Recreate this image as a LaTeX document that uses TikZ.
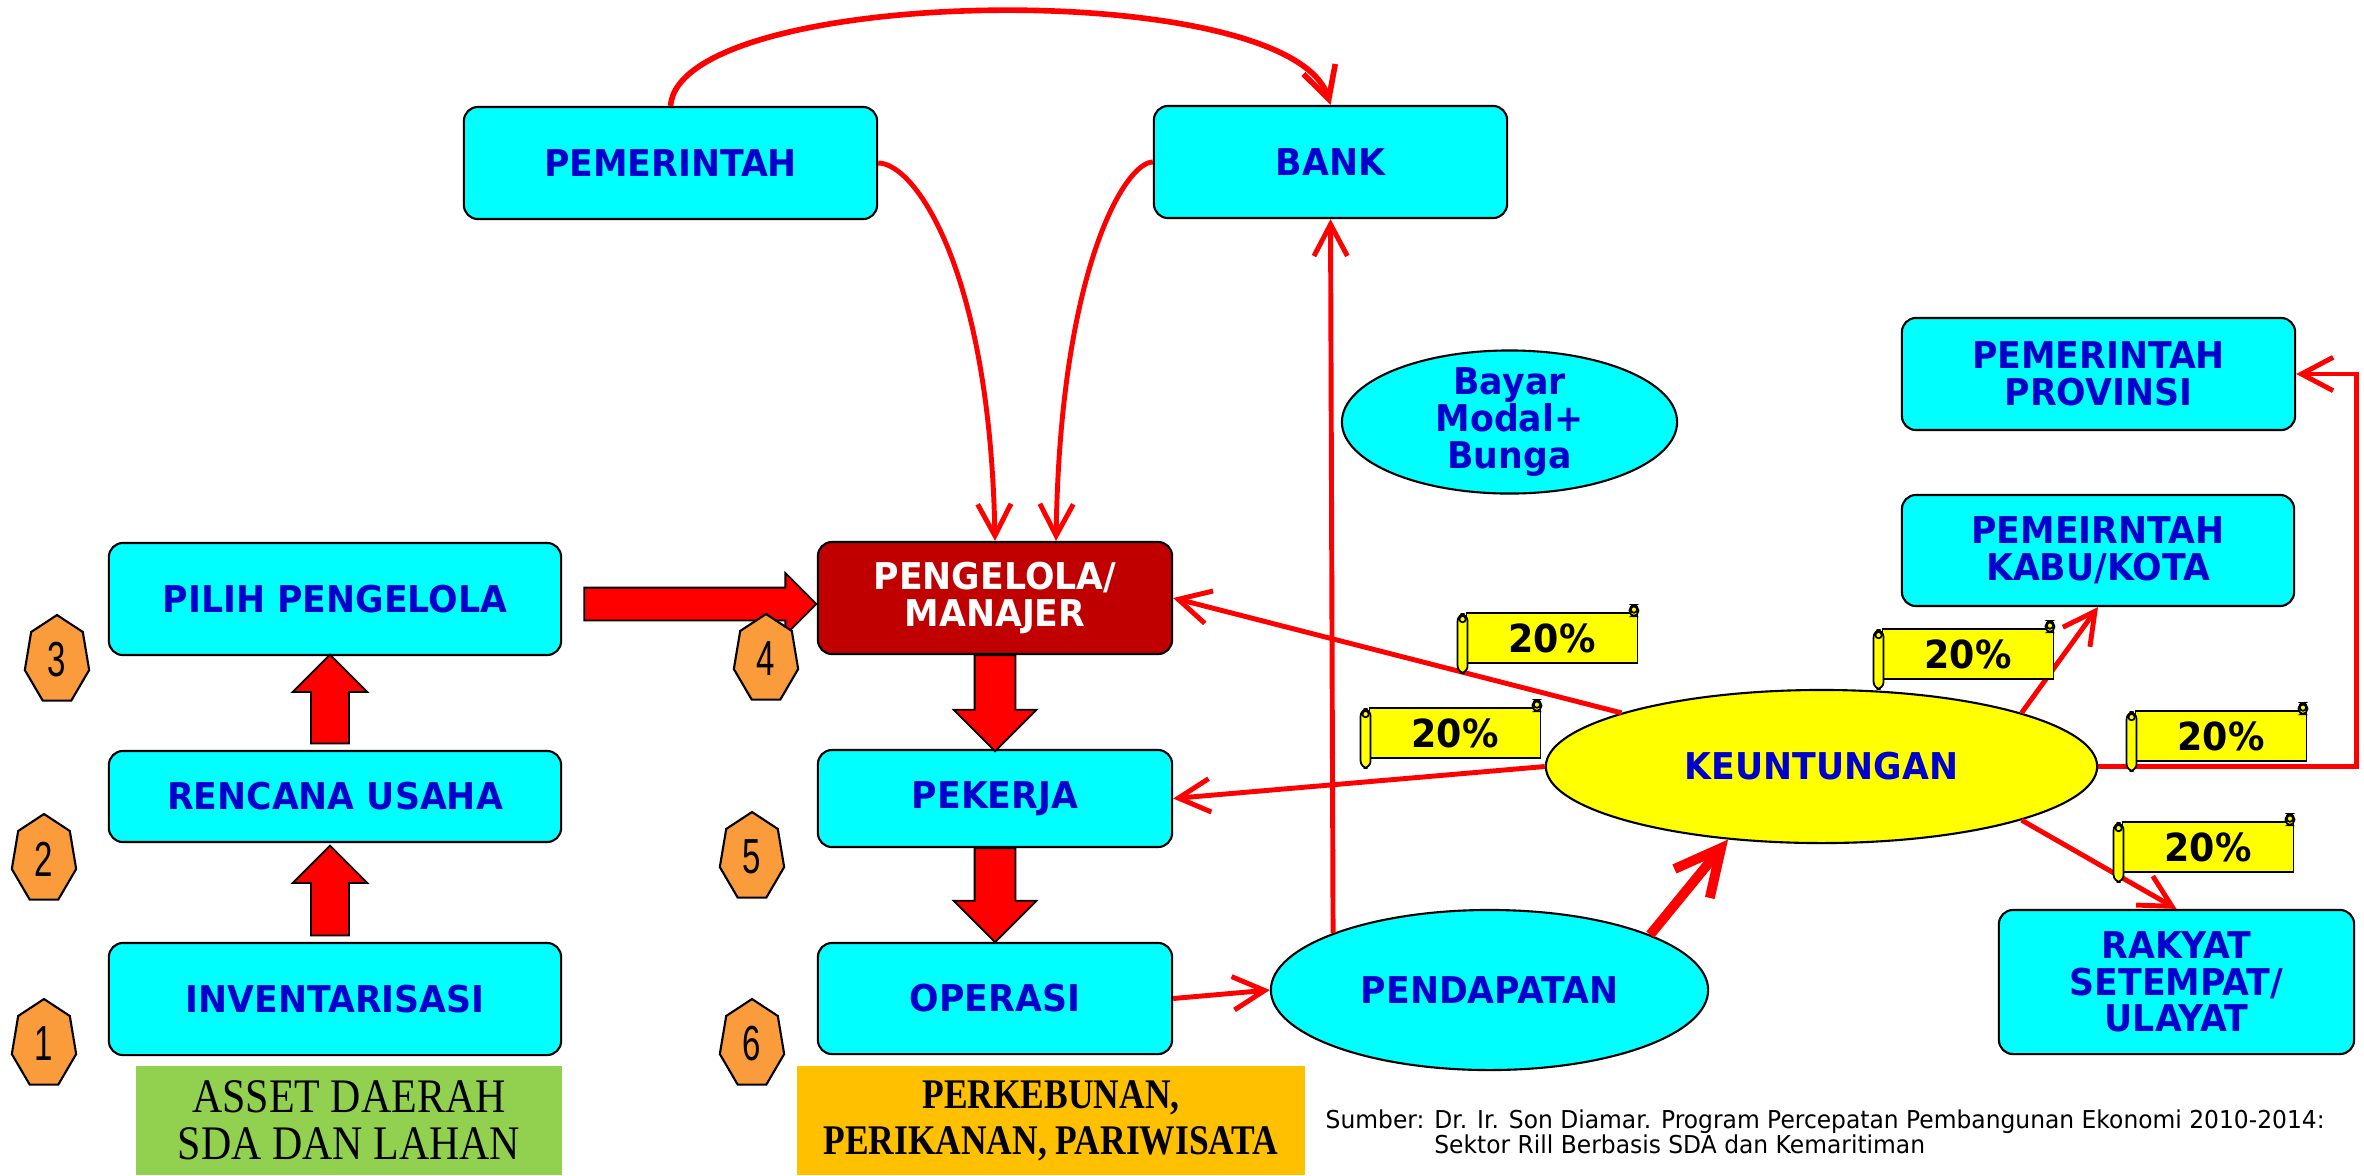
\documentclass[tikz,border=0pt]{standalone}
\usepackage{fontspec}
\newfontfamily\boxfont[FakeStretch=0.94]{DejaVu Sans}
\newfontfamily\numfont[FakeStretch=0.67]{Liberation Sans}
\newfontfamily\assetfont[FakeStretch=0.87]{Liberation Serif}
\newfontfamily\sectorfont[FakeStretch=0.84]{Liberation Serif}
\newfontfamily\srcfont[FakeStretch=0.95]{DejaVu Sans}
\usetikzlibrary{shapes.geometric,shapes.arrows,arrows.meta,calc}
\definecolor{boxcyan}{RGB}{0,255,255}
\definecolor{txtblue}{RGB}{0,0,204}
\definecolor{mgrred}{RGB}{192,0,0}
\definecolor{linered}{RGB}{255,0,0}
\definecolor{heptorange}{RGB}{250,155,60}
\definecolor{assetgreen}{RGB}{146,208,80}
\definecolor{sectorgold}{RGB}{255,192,0}
\definecolor{scrollyellow}{RGB}{255,255,0}
\newcommand\pct[3]{%
  \node[pctbody] (#1) at (#2,#3) {20\%};
  \filldraw[scrollln,rounded corners=1.5pt] ($(#1.north east)+(-9,-7)$) rectangle ($(#1.north east)+(0,4)$);
  \draw[scrollln] ($(#1.north east)+(-4.5,-2.5)$) circle[radius=0.9pt];
  \filldraw[scrollln,rounded corners=2pt] ($(#1.north west)+(-8,2)$) rectangle ($(#1.south west)+(2,9)$);
  \draw[scrollln] ($(#1.north west)+(-3,7)$) circle[radius=0.9pt];
}
\begin{document}
\begin{tikzpicture}[x=0.01cm,y=-0.01cm,
  box/.style={draw=black,line width=0.6pt,fill=boxcyan,rounded corners=4pt,text=txtblue,
    font=\boxfont\bfseries\fontsize{10.5}{10.4}\selectfont,align=center,inner sep=0pt},
  oval/.style={ellipse,draw=black,line width=0.6pt,fill=boxcyan,text=txtblue,
    font=\boxfont\bfseries\fontsize{10.5}{10.4}\selectfont,align=center,inner sep=0pt},
  conn/.style={draw=linered,line width=1.4pt,-{Straight Barb[length=9pt,width=9.5pt]}},
  barrow/.style={single arrow,draw=black,fill=linered,line width=0.5pt,inner sep=0pt,single arrow tip angle=90},
  pctbody/.style={draw=black,line width=0.5pt,fill=scrollyellow,minimum width=1.71cm,minimum height=0.50cm,
    inner sep=0pt,font=\boxfont\bfseries\fontsize{11}{11}\selectfont},
  scrollln/.style={draw=black,line width=0.5pt,fill=scrollyellow},
  hept/.style={draw=black,line width=0.6pt,fill=heptorange},
  num/.style={font=\numfont\fontsize{14}{14}\selectfont,inner sep=0pt}]
  \useasboundingbox (0,0) rectangle (2364,1175);
  \node[box,minimum width=4.13cm,minimum height=1.12cm] (pem) at (670.5,163) {PEMERINTAH};
  \node[box,minimum width=3.53cm,minimum height=1.12cm] (bank) at (1330.5,162) {BANK};
  \node[box,minimum width=4.52cm,minimum height=1.12cm] (pilih) at (335,599) {PILIH PENGELOLA};
  \node[box,minimum width=4.52cm,minimum height=0.91cm] (rencana) at (335,796.5) {RENCANA USAHA};
  \node[box,minimum width=4.52cm,minimum height=1.12cm] (inv) at (335,999) {INVENTARISASI};
  \node[box,fill=mgrred,text=white,minimum width=3.54cm,minimum height=1.12cm] (mgr) at (995,598) {PENGELOLA/\\MANAJER};
  \node[box,minimum width=3.54cm,minimum height=0.97cm] (pekerja) at (995,798.5) {PEKERJA};
  \node[box,minimum width=3.54cm,minimum height=1.11cm] (operasi) at (995,998.5) {OPERASI};
  \node[box,minimum width=3.93cm,minimum height=1.12cm] (prov) at (2098.5,374) {PEMERINTAH\\PROVINSI};
  \node[box,minimum width=3.92cm,minimum height=1.11cm] (kabu) at (2098,550.5) {PEMEIRNTAH\\KABU/KOTA};
  \node[box,minimum width=3.55cm,minimum height=1.44cm] (rakyat) at (2176.5,982) {RAKYAT\\SETEMPAT/\\ULAYAT};
  \node[oval,minimum width=3.35cm,minimum height=1.43cm] (bayar) at (1509.5,422) {};
  \node[text=txtblue,font=\boxfont\bfseries\fontsize{10.5}{10.4}\selectfont,align=center,inner sep=0pt] (bayartxt) at (bayar) {Bayar\\Modal+\\Bunga};
  \node[oval,minimum width=4.37cm,minimum height=1.60cm] (pend) at (1489.5,990) {PENDAPATAN};
  \node[oval,fill=scrollyellow,minimum width=5.51cm,minimum height=1.53cm] (keu) at (1821.5,766.5) {KEUNTUNGAN};
  \node[fill=assetgreen,minimum width=4.26cm,minimum height=1.09cm,align=center,inner sep=0pt,
    font=\assetfont\fontsize{13.7}{13.4}\selectfont] (asset) at (349,1120.5) {ASSET DAERAH\\SDA DAN LAHAN};
  \node[fill=sectorgold,minimum width=5.08cm,minimum height=1.09cm,align=center,inner sep=0pt,
    font=\sectorfont\bfseries\fontsize{12}{13.1}\selectfont] (sector) at (1051,1120.5) {PERKEBUNAN,\\PERIKANAN, PARIWISATA};
  \node[anchor=base west,inner sep=0pt,font=\srcfont\fontsize{7}{6.3}\selectfont] (src) at (1325,1128)
    {\begin{tabular}[t]{@{}l@{ }l@{}}Sumber: & Dr. Ir. Son Diamar. Program Percepatan Pembangunan Ekonomi 2010-2014:\\
     & Sektor Rill Berbasis SDA dan Kemaritiman\end{tabular}};
  \node[barrow,rotate=90,inner ysep=0.18cm,single arrow head extend=0.185cm,minimum height=0.90cm] (inv2ren) at (330,900) {};
  \node[barrow,rotate=90,inner ysep=0.18cm,single arrow head extend=0.185cm,minimum height=0.89cm] (ren2pil) at (330,708.5) {};
  \node[barrow,inner ysep=0.155cm,single arrow head extend=0.145cm,minimum height=2.32cm] (pil2mgr) at (692,604) {};
  \node[barrow,rotate=-90,inner ysep=0.195cm,single arrow head extend=0.21cm,minimum height=0.96cm] (mgr2pek) at (995,693) {};
  \node[barrow,rotate=-90,inner ysep=0.195cm,single arrow head extend=0.21cm,minimum height=0.94cm] (pek2ops) at (995,885) {};
  \draw[conn,line width=1.6pt] (pem.north) .. controls (680,-15) and (1290,-25) .. (bank.north);
  \draw[conn] (pem.east) .. controls (915,163) and (990,270) .. (mgr.north);
  \draw[conn] (bank.west) .. controls (1125,162) and (1060,270) .. ([xshift=0.61cm]mgr.north);
  \draw[conn] (pend.160) -- (bank.south);
  \draw[conn] (operasi.east) -- (pend.west);
  \draw[conn] (keu.165) -- (mgr.east);
  \draw[conn] (keu.west) -- (pekerja.east);
  \draw[conn,line width=2.8pt,-{Straight Barb[length=13pt,width=13pt]}] (pend.19) -- (keu.218);
  \draw[conn] (keu.15) -- (kabu.south);
  \draw[conn] (keu.-15) -- (rakyat.north);
  \draw[conn] (keu.east) -- ++(258,0) |- (prov.east);
  \pct{p1}{1552}{638}
  \pct{p2}{1455}{733}
  \pct{p3}{1968}{654}
  \pct{p4}{2221}{736}
  \pct{p5}{2208}{847}
  \foreach \n/\hx/\hy in {1/44/1044,2/44/859,3/57/660,4/766/659,5/752/857,6/752/1044}{
    \filldraw[hept] (\hx,\hy) +(270:33 and 45) \foreach \k in {1,...,6}{ -- +(270+\k*51.4286:33 and 45)} -- cycle;
    \node[num] (h\n) at (\hx,\hy) {\n};
  }
\end{tikzpicture}
\end{document}
